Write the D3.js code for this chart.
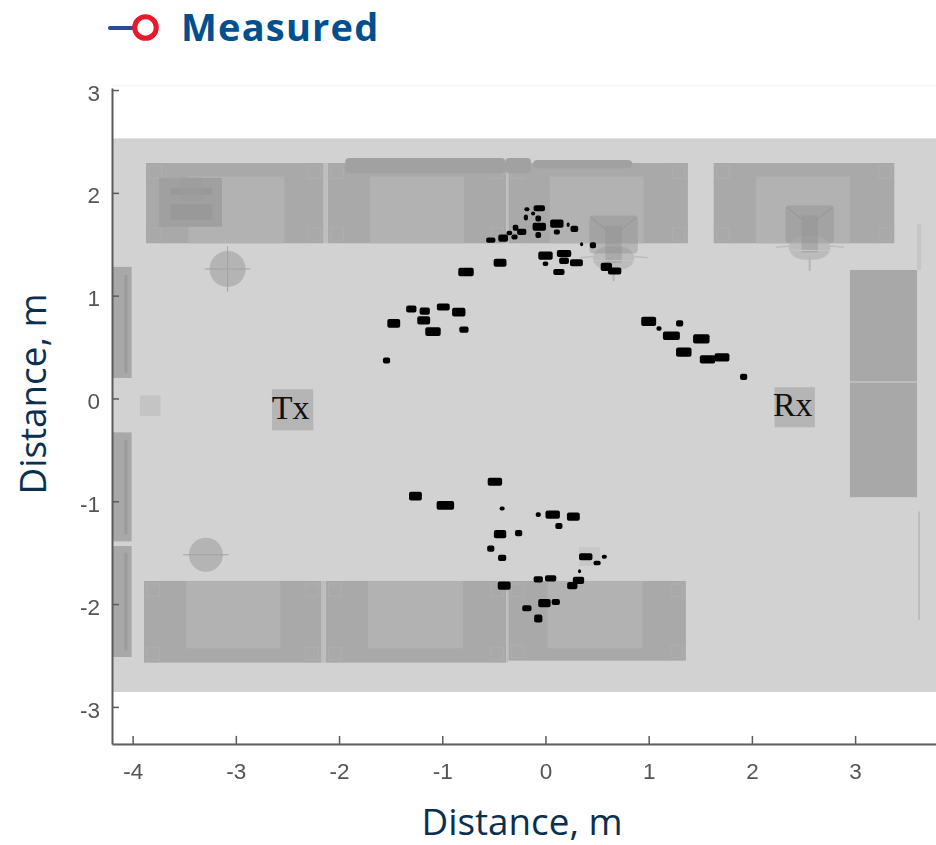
<!DOCTYPE html>
<html>
<head>
<meta charset="utf-8">
<style>
  html, body { margin: 0; padding: 0; background: #fff; }
  svg { display: block; }
  .tick text { font-family: "Liberation Sans", Arial, sans-serif; font-size: 22.5px; fill: #555; }
  .title { font-family: "Open Sans", sans-serif; fill: #0b2f4e; font-size: 36.8px; }
</style>
<script src="https://cdnjs.cloudflare.com/ajax/libs/d3/7.8.5/d3.min.js"></script>
</head>
<body>
<div id="chart"></div>
<script>
var xTicks = [-4, -3, -2, -1, 0, 1, 2, 3];
var yTicks = [-3, -2, -1, 0, 1, 2, 3];

// measured spots, metres: centre and extent
var pointX = [-0.06, -0.18, -0.12, -0.07, -0.19, 0.11, -0.06, -0.29, -0.23, 0.11, 0.28, 0.22, -0.07, -0.35, -0.30, -0.41, -0.53, 0.35, 0.46, 0.18, 0, -0.44, 0.18, 0.30, 0, 0.13, 0.59, 0.67, -0.77,
  -1.30, -1.17, -0.99, -0.84, -1.47, -1.18, -1.09, -0.79, -1.54,
  1.00, 1.10, 1.30, 1.22, 1.51, 1.34, 1.57, 1.71, 1.92,
  -0.49, -1.26, -0.97, -0.42, -0.07, 0.07, 0.27, 0.13, -0.44, -0.26, -0.53, -0.42, 0.39, 0.57, 0.50, 0.33, -0.07, 0.05, 0.32, 0.26, -0.40, -0.01, 0.10, -0.18, -0.07];
var pointY = [1.85, 1.84, 1.80, 1.75, 1.76, 1.70, 1.67, 1.66, 1.62, 1.62, 1.65, 1.69, 1.59, 1.61, 1.57, 1.56, 1.54, 1.50, 1.49, 1.41, 1.39, 1.32, 1.34, 1.32, 1.31, 1.23, 1.28, 1.24, 1.23,
  0.87, 0.85, 0.89, 0.84, 0.73, 0.76, 0.65, 0.67, 0.37,
  0.75, 0.68, 0.73, 0.61, 0.58, 0.45, 0.38, 0.40, 0.21,
  -0.81, -0.95, -1.04, -1.07, -1.13, -1.13, -1.15, -1.24, -1.32, -1.31, -1.46, -1.55, -1.54, -1.54, -1.60, -1.68, -1.76, -1.75, -1.77, -1.82, -1.82, -1.99, -1.98, -2.04, -2.14];
var pointW = [0.10, 0.04, 0.03, 0.045, 0.03, 0.12, 0.12, 0.045, 0.08, 0.05, 0.065, 0.02, 0.045, 0.045, 0.05, 0.085, 0.08, 0.02, 0.05, 0.13, 0.13, 0.115, 0.085, 0.115, 0.045, 0.10, 0.10, 0.12, 0.14,
  0.09, 0.09, 0.115, 0.12, 0.115, 0.115, 0.14, 0.08, 0.06,
  0.135, 0.04, 0.06, 0.155, 0.15, 0.14, 0.14, 0.135, 0.06,
  0.13, 0.115, 0.16, 0.04, 0.04, 0.13, 0.115, 0.06, 0.11, 0.06, 0.06, 0.07, 0.12, 0.04, 0.06, 0.02, 0.08, 0.10, 0.10, 0.09, 0.115, 0.11, 0.07, 0.08, 0.07];
var pointH = [0.04, 0.02, 0.02, 0.04, 0.04, 0.06, 0.06, 0.04, 0.04, 0.03, 0.04, 0.025, 0.04, 0.025, 0.03, 0.05, 0.03, 0.02, 0.04, 0.05, 0.06, 0.06, 0.045, 0.05, 0.025, 0.04, 0.06, 0.05, 0.065,
  0.05, 0.05, 0.05, 0.065, 0.065, 0.06, 0.065, 0.04, 0.04,
  0.07, 0.025, 0.04, 0.065, 0.07, 0.07, 0.06, 0.06, 0.04,
  0.06, 0.065, 0.065, 0.02, 0.025, 0.06, 0.06, 0.04, 0.06, 0.04, 0.04, 0.04, 0.05, 0.02, 0.025, 0.02, 0.04, 0.04, 0.05, 0.05, 0.06, 0.06, 0.04, 0.04, 0.06];

// room plan, metres: [x0, x1, yTop, yBottom]
var floor = [-4.2, 3.79, 2.53, -2.855];
var desks = [
  [-3.87, -2.15, 2.29, 1.51], [-2.11, -0.38, 2.29, 1.51], [-0.36, 1.38, 2.29, 1.51], [1.63, 3.38, 2.29, 1.51],
  [-3.89, -2.17, -1.775, -2.57], [-2.13, -0.38, -1.775, -2.57], [-0.36, 1.36, -1.775, -2.55]
];
var deskGaps = [[-2.15, -2.11, 2.29, 1.51], [-0.38, -0.36, 2.29, 1.51], [-2.17, -2.13, -1.775, -2.57], [-0.38, -0.36, -1.775, -2.57]];
var deskPanels = [
  [-3.46, -2.53, 2.16, 1.51], [-1.70, -0.79, 2.16, 1.51], [0.04, 0.95, 2.16, 1.51], [2.04, 2.95, 2.16, 1.51],
  [-3.48, -2.57, -1.775, -2.43], [-1.72, -0.80, -1.775, -2.43], [0.02, 0.94, -1.775, -2.43]
];
var shelves = [
  [-1.94, -0.39, 2.34, 2.19], [-0.39, -0.14, 2.34, 2.19], [-0.12, 0.84, 2.32, 2.24]
];
var monitor = [[-3.745, -3.135, 2.145, 1.67], [-3.63, -3.23, 1.89, 1.74], [-3.63, -3.23, 2.05, 1.98], [-3.53, -3.33, 2.15, 1.92]];
var wallUnits = [[-4.2, -4.01, 1.28, 0.20], [-4.2, -4.01, -0.33, -1.39], [-4.2, -4.01, -1.435, -2.515]];
var wallStrips = [[-4.08, -4.05, 1.2, 0.25], [-4.08, -4.05, -0.4, -1.32], [-4.08, -4.05, -1.5, -2.45]];
var cabinet = [2.95, 3.60, 1.25, -0.96];
var cabinetSeam = [2.95, 3.60, 0.16];
var boxes = [[-3.93, -3.73, 0.03, -0.17], [0.325, 0.53, -1.445, -1.63]];
var edgeBar = [3.60, 3.64, 1.70, 1.25];
var edgeLine = [3.62, -1.10, -2.155];
var stools = [[-3.08, 1.26, 0.175, true], [-3.29, -1.52, 0.165, false]];
var chairX = [0.66, 2.56];
var chairTop = [1.78, 1.88];
var antennas = [
  { name: 'Tx', x0: -2.65, x1: -2.25, top: 0.09, bottom: -0.31 },
  { name: 'Rx', x0: 2.22, x1: 2.61, top: 0.11, bottom: -0.28 }
];

var width = 936, height = 845;
var x = d3.scaleLinear().domain([-4.2, 3.78]).range([112, 935.6]);
var y = d3.scaleLinear().domain([3.02, -3.36]).range([88, 743.9]);

var svg = d3.select('#chart').append('svg')
  .attr('width', width)
  .attr('height', height)
  .attr('viewBox', '0 0 ' + width + ' ' + height);

var defs = svg.append('defs');
defs.append('filter').attr('id', 'soft').attr('x', '-5%').attr('y', '-5%').attr('width', '110%').attr('height', '110%')
  .append('feGaussianBlur').attr('stdDeviation', 0.6);
defs.append('filter').attr('id', 'softer').attr('x', '-5%').attr('y', '-5%').attr('width', '110%').attr('height', '110%')
  .append('feGaussianBlur').attr('stdDeviation', 0.4);
defs.append('clipPath').attr('id', 'plot').append('rect')
  .attr('x', 112).attr('y', 80).attr('width', 824).attr('height', 664);

function box(sel, d, fill) {
  return sel.append('rect')
    .attr('x', x(d[0]))
    .attr('y', y(d[2]))
    .attr('width', x(d[1]) - x(d[0]))
    .attr('height', y(d[3]) - y(d[2]))
    .attr('fill', fill);
}

svg.append('line')
  .attr('x1', 112).attr('x2', width)
  .attr('y1', 85.5).attr('y2', 85.5)
  .attr('stroke', '#f6f6f6');

var room = svg.append('g').attr('clip-path', 'url(#plot)').append('g').attr('filter', 'url(#soft)');

box(room, floor, '#d2d2d2');

desks.forEach(function(d) {
  box(room, d, '#a9a9a9');
  var m = 0.12;
  [[d[0] + 0.03, d[0] + 0.03 + m], [d[1] - 0.03 - m, d[1] - 0.03]].forEach(function(cx) {
    [[d[2] - 0.03, d[2] - 0.03 - m], [d[3] + 0.03 + m, d[3] + 0.03]].forEach(function(cy) {
      box(room, [cx[0], cx[1], cy[0], cy[1]], 'none').attr('stroke', '#afafaf').attr('stroke-width', 1);
    });
  });
});
deskGaps.forEach(function(d) { box(room, d, '#bebebe'); });
deskPanels.forEach(function(d) { box(room, d, '#b2b2b2'); });
shelves.forEach(function(d) {
  box(room, d, '#a1a1a1').attr('rx', 4);
});
box(room, monitor[0], '#a0a0a0');
box(room, monitor[1], '#999999');
box(room, monitor[2], '#999999');
box(room, monitor[3], '#9c9c9c').attr('opacity', 0.5);

wallUnits.forEach(function(d) { box(room, d, '#a8a8a8'); });
wallStrips.forEach(function(d) { box(room, d, '#9b9b9b'); });
box(room, cabinet, '#a8a8a8');
room.append('line')
  .attr('x1', x(cabinetSeam[0])).attr('x2', x(cabinetSeam[1]))
  .attr('y1', y(cabinetSeam[2])).attr('y2', y(cabinetSeam[2]))
  .attr('stroke', '#c4c4c4').attr('stroke-width', 1.5);
box(room, edgeBar, '#c6c6c6');
room.append('line')
  .attr('x1', x(edgeLine[0])).attr('x2', x(edgeLine[0]))
  .attr('y1', y(edgeLine[1])).attr('y2', y(edgeLine[2]))
  .attr('stroke', '#b6b6b6').attr('stroke-width', 1.5);
box(room, boxes[0], '#c4c4c4');
box(room, boxes[1], '#c8c8c8');

stools.forEach(function(d) {
  room.append('circle')
    .attr('cx', x(d[0])).attr('cy', y(d[1]))
    .attr('r', x(d[2]) - x(0))
    .attr('fill', '#b4b4b4');
  room.append('line')
    .attr('x1', x(d[0] - 0.22)).attr('x2', x(d[0] + 0.22))
    .attr('y1', y(d[1])).attr('y2', y(d[1]))
    .attr('stroke', '#a2a2a2');
  if (d[3]) {
    room.append('line')
      .attr('x1', x(d[0])).attr('x2', x(d[0]))
      .attr('y1', y(d[1] + 0.22)).attr('y2', y(d[1] - 0.22))
      .attr('stroke', '#a2a2a2');
  }
});

chairX.forEach(function(cx, i) {
  var top = chairTop[i];
  var g = room.append('g');
  // seat first, back and post over it
  box(g, [cx - 0.2, cx + 0.2, top - 0.3, top - 0.53], '#bcbcbc').attr('rx', 16);
  box(g, [cx - 0.235, cx + 0.235, top, top - 0.37], '#8f8f8f').attr('rx', 4).attr('opacity', 0.42);
  box(g, [cx - 0.08, cx + 0.08, top - 0.1, top - 0.46], '#8f8f8f').attr('opacity', 0.4);
  [-1, 1].forEach(function(s) {
    g.append('line')
      .attr('x1', x(cx + s * 0.22)).attr('x2', x(cx + s * 0.07))
      .attr('y1', y(top - 0.02)).attr('y2', y(top - 0.14))
      .attr('stroke', '#949494');
    g.append('line')
      .attr('x1', x(cx + s * 0.1)).attr('x2', x(cx + s * 0.33))
      .attr('y1', y(top - 0.39)).attr('y2', y(top - 0.41))
      .attr('stroke', '#bdbdbd').attr('stroke-width', 1.5);
  });
  g.append('line')
    .attr('x1', x(cx - 0.2)).attr('x2', x(cx + 0.2))
    .attr('y1', y(top - 0.44)).attr('y2', y(top - 0.44))
    .attr('stroke', '#c6c6c6');
  g.append('line')
    .attr('x1', x(cx)).attr('x2', x(cx))
    .attr('y1', y(top - 0.5)).attr('y2', y(top - 0.64))
    .attr('stroke', '#b6b6b6').attr('stroke-width', 2);
});

antennas.forEach(function(a) {
  box(room, [a.x0, a.x1, a.top, a.bottom], '#b5b5b5');
});

var spots = d3.range(pointX.length).map(function(i) {
  return { x: pointX[i], y: pointY[i], w: pointW[i], h: pointH[i] };
});

// blur eats the edge of each spot, so pad it a little
svg.append('g')
  .attr('filter', 'url(#softer)')
  .selectAll('rect')
  .data(spots)
  .enter().append('rect')
  .attr('x', function(d) { return x(d.x - d.w / 2) - 0.5; })
  .attr('y', function(d) { return y(d.y + d.h / 2) - 1; })
  .attr('width', function(d) { return x(d.w) - x(0) + 1; })
  .attr('height', function(d) { return y(0) - y(d.h) + 2; })
  .attr('rx', 2)
  .attr('fill', '#000');

svg.selectAll('.ant')
  .data(antennas)
  .enter().append('text')
  .attr('class', 'ant')
  .attr('x', function(d) { return (x(d.x0) + x(d.x1)) / 2 - 2; })
  .attr('y', function(d) { return y((d.top + d.bottom) / 2) + 9; })
  .attr('text-anchor', 'middle')
  .attr('font-family', '"Liberation Serif", serif')
  .attr('font-size', 34)
  .attr('fill', '#111')
  .text(function(d) { return d.name; });

var xAxis = svg.append('g')
  .attr('transform', 'translate(0,' + y(-3.36) + ')')
  .attr('filter', 'url(#softer)')
  .call(d3.axisBottom(x).tickValues(xTicks).tickSize(-8).tickPadding(19).tickSizeOuter(0).tickFormat(String));
var yAxis = svg.append('g')
  .attr('transform', 'translate(' + x(-4.2) + ',0)')
  .attr('filter', 'url(#softer)')
  .call(d3.axisLeft(y).tickValues(yTicks).tickSize(-7).tickPadding(12).tickSizeOuter(0).tickFormat(String));
[xAxis, yAxis].forEach(function(a) {
  a.select('.domain').attr('stroke', '#5a5a5a').attr('stroke-width', 2);
  a.selectAll('.tick line').attr('stroke', '#5a5a5a').attr('stroke-width', 1.5);
});
yAxis.selectAll('.tick text').attr('dy', '0.45em');

svg.append('text')
  .attr('class', 'title')
  .attr('x', 522).attr('y', 835)
  .attr('text-anchor', 'middle')
  .text('Distance, m');
svg.append('text')
  .attr('class', 'title')
  .attr('transform', 'translate(46,394)rotate(-90)')
  .attr('text-anchor', 'middle')
  .text('Distance, m');

// legend
svg.append('line')
  .attr('x1', 110).attr('x2', 134)
  .attr('y1', 28).attr('y2', 28)
  .attr('stroke', '#2b4a9b').attr('stroke-width', 4)
  .attr('stroke-linecap', 'round');
svg.append('circle')
  .attr('cx', 145.5).attr('cy', 27.5).attr('r', 10.8)
  .attr('fill', '#fff')
  .attr('stroke', '#e8192c').attr('stroke-width', 5);
svg.append('text')
  .attr('x', 181).attr('y', 41)
  .attr('font-family', '"Open Sans", sans-serif')
  .attr('font-weight', 700)
  .attr('font-size', 38)
  .attr('letter-spacing', 1.2)
  .attr('fill', '#00508f')
  .text('Measured');
</script>
</body>
</html>
